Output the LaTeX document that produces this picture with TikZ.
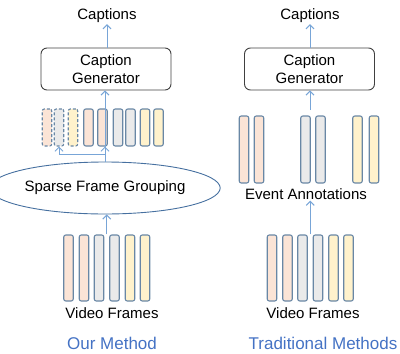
\documentclass[tikz,border=0pt]{standalone}
\usepackage{fontspec}
\setmainfont{Liberation Sans}
\usetikzlibrary{shapes.geometric}
\usetikzlibrary{calc}
\usetikzlibrary{arrows.meta}

\definecolor{stripline}{RGB}{105,135,165}
\definecolor{peach}{RGB}{251,228,214}
\definecolor{lgray}{RGB}{234,234,234}
\definecolor{lyellow}{RGB}{255,242,204}
\definecolor{arrowblue}{RGB}{120,165,215}
\definecolor{ellblue}{RGB}{70,112,160}
\definecolor{titleblue}{RGB}{68,114,196}

\tikzset{
  >={Straight Barb[length=4pt,width=8pt]},
  lbl/.style={font=\fontsize{15}{17}\selectfont, inner sep=1pt},
  title/.style={font=\fontsize{17}{20}\selectfont, text=titleblue, inner sep=1pt},
  strip/.style={draw=stripline, line width=1.1pt, rounded corners=2pt, inner sep=0pt, minimum width=9.5pt},
  shortstrip/.style={strip, minimum height=37pt},
  tallstrip/.style={strip, minimum height=66pt},
  ghost/.style={dash pattern=on 3pt off 2pt},
  genbox/.style={draw=black!75, line width=0.9pt, rounded corners=6pt, minimum width=130pt, minimum height=42pt, align=center, font=\fontsize{15}{17.5}\selectfont},
  arr/.style={->, draw=arrowblue, line width=1pt}
}

\begin{document}
\begin{tikzpicture}[x=1pt,y=-1pt]
\useasboundingbox (0,0) rectangle (400,354);
% left: our method
\node[lbl] (capL) at (107,16) {Captions};
\node[genbox] (genL) at (106,69) {Caption\\Generator};
\node[shortstrip, ghost, fill=peach] (f1) at (47,127.5) {};
\node[shortstrip, ghost, fill=lgray] (f2) at (59,127.5) {};
\node[shortstrip, ghost, fill=lyellow] (f3) at (73,127.5) {};
\node[shortstrip, fill=peach] (f4) at (88.5,127.5) {};
\node[shortstrip, fill=peach] (f5) at (102.5,127.5) {};
\node[shortstrip, fill=lgray] (f6) at (118,127.5) {};
\node[shortstrip, fill=lgray] (f7) at (130.5,127.5) {};
\node[shortstrip, fill=lyellow] (f8) at (145,127.5) {};
\node[shortstrip, fill=lyellow] (f9) at (158.5,127.5) {};
\node[ellipse, draw=ellblue, line width=0.9pt, minimum width=176pt, minimum height=52pt, inner sep=0pt, lbl] (grp) at (105,188) {Sparse Frame Grouping};
\node[tallstrip, fill=peach] (v1) at (68.5,268) {};
\node[tallstrip, fill=peach] (v2) at (84,268) {};
\node[tallstrip, fill=lgray] (v3) at (99,268) {};
\node[tallstrip, fill=lgray] (v4) at (114.5,268) {};
\node[tallstrip, fill=lyellow] (v5) at (130,268) {};
\node[tallstrip, fill=lyellow] (v6) at (145,268) {};
\node[lbl] (vidL) at (112,313) {Video Frames};
\node[title] (ours) at (112,343) {Our Method};
\coordinate (split) at (105,154);
\draw[arr] (genL.north -| capL) -- (capL.south);
\draw[arr] (grp.north -| split) -- (f5.south -| split);
\draw[arr] (split) -- (genL.south -| split);
\draw[arr] (split) -| (f2.south);
\draw[arr] ($(v3.north)!0.5!(v4.north)$) -- (grp.south -| {$(v3.north)!0.5!(v4.north)$});
% right: traditional methods
\node[lbl] (capR) at (310,16) {Captions};
\node[genbox] (genR) at (309.5,69) {Caption\\Generator};
\node[strip, minimum height=67pt, fill=peach] (e1) at (244,149.5) {};
\node[strip, minimum height=67pt, fill=peach] (e2) at (259,149.5) {};
\node[strip, minimum height=67pt, fill=lgray] (e3) at (305.5,149.5) {};
\node[strip, minimum height=67pt, fill=lgray] (e4) at (320.5,149.5) {};
\node[strip, minimum height=67pt, fill=lyellow] (e5) at (357.5,149.5) {};
\node[strip, minimum height=67pt, fill=lyellow] (e6) at (374,149.5) {};
\node[lbl] (evt) at (306,194) {Event Annotations};
\node[tallstrip, fill=peach] (w1) at (272,268) {};
\node[tallstrip, fill=peach] (w2) at (287.5,268) {};
\node[tallstrip, fill=lgray] (w3) at (302.5,268) {};
\node[tallstrip, fill=lgray] (w4) at (318,268) {};
\node[tallstrip, fill=lyellow] (w5) at (333.5,268) {};
\node[tallstrip, fill=lyellow] (w6) at (348.5,268) {};
\node[lbl] (vidR) at (313,313) {Video Frames};
\node[title] (trad) at (323,343) {Traditional Methods};
\coordinate (evtop) at (310,110);
\draw[arr] (genR.north -| capR) -- (capR.south);
\draw[arr] (evtop) -- (genR.south -| evtop);
\draw[arr] ($(w3.north)!0.5!(w4.north)$) -- (evt.south -| {$(w3.north)!0.5!(w4.north)$});
\end{tikzpicture}
\end{document}
